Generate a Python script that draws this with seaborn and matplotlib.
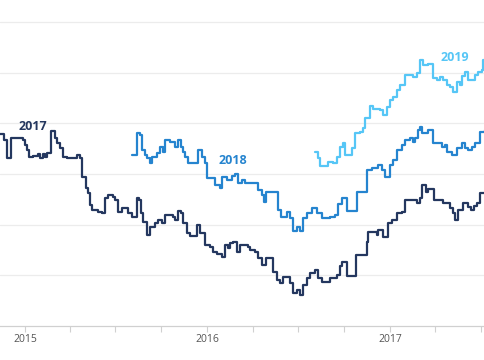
import pandas as pd
import numpy as np
import seaborn as sns
from matplotlib import pyplot as plt
import matplotlib.dates as mdates

# days counted from 2015-01-01
days_2017 = [-50, -42, -36, -28, -4, 0, 4, 8, 16, 26, 30, 36, 40, 44, 52, 60, 64, 70, 76, 84,
             104, 110, 114, 122, 126, 130, 134, 146, 154, 160, 166, 176, 180, 186, 194, 206, 214,
             224, 228, 232, 236, 244, 250, 260, 266, 274, 280, 296, 300, 306, 312, 316, 324, 330,
             344, 350, 360, 370, 376, 384, 394, 400, 406, 410, 416, 424, 430, 446, 450, 460, 466,
             474, 482, 496, 504, 510, 516, 530, 536, 544, 550, 556, 564, 570, 580, 586, 594, 610,
             624, 630, 634, 644, 662, 684, 686, 704, 706, 716, 726, 734, 744, 754, 760, 784, 790,
             794, 802, 806, 818, 836, 850, 856, 860, 866, 876, 886, 892, 898, 904, 910, 920]
vals_2017 = [37.9, 36.7, 33.1, 37.1, 36.7, 35.7, 34.7, 33.3, 33.5, 33.9, 33.1, 33.9, 33.3, 34.1,
             38.5, 37.1, 36.1, 35.1, 33.3, 33.1, 33.7, 33.1, 29.4, 27.2, 26.2, 23.9, 22.9, 22.5,
             22.3, 25.2, 25.8, 25.4, 24.9, 22.5, 23.3, 22.3, 21.5, 25.2, 24.9, 22.3, 20.5, 17.9,
             19.5, 20.3, 20.9, 20.3, 21.9, 21.5, 20.9, 22.7, 22.3, 20.3, 18.3, 17.8, 19.9, 18.3,
             16.0, 15.6, 14.6, 14.2, 13.6, 16.0, 15.4, 16.4, 16.6, 14.6, 16.0, 15.6, 15.0, 14.6,
             13.4, 12.0, 13.4, 10.7, 9.1, 8.5, 9.7, 8.5, 6.5, 7.1, 6.1, 8.1, 9.5, 10.5, 11.0, 9.5,
             8.7, 9.5, 10.1, 11.8, 12.6, 9.9, 14.0, 16.6, 18.5, 17.9, 18.9, 17.6, 20.3, 20.9, 22.3,
             22.5, 24.9, 24.3, 25.2, 27.8, 26.4, 27.0, 24.9, 24.3, 23.3, 22.3, 20.9, 22.9, 24.3,
             23.5, 22.9, 23.7, 24.3, 26.2, 26.2]

days_2018 = [214, 224, 230, 234, 240, 244, 250, 254, 264, 270, 276, 280, 290, 300, 306, 312, 316,
             320, 326, 346, 354, 360, 364, 380, 390, 394, 404, 414, 420, 426, 434, 440, 466, 474,
             478, 482, 502, 506, 512, 524, 530, 536, 544, 550, 556, 564, 574, 584, 594, 610, 620,
             626, 634, 644, 664, 684, 694, 706, 714, 720, 730, 736, 744, 754, 760, 770, 776, 780,
             786, 790, 794, 806, 816, 834, 840, 844, 854, 864, 874, 880, 886, 894, 900, 910, 920]
vals_2018 = [33.7, 38.1, 37.7, 34.7, 33.7, 33.1, 32.1, 33.3, 34.1, 35.3, 34.3, 36.7, 36.3, 35.3,
             36.7, 35.3, 34.3, 33.3, 32.1, 34.7, 33.3, 32.1, 29.2, 27.8, 27.2, 29.4, 28.8, 29.6,
             30.0, 28.2, 28.8, 28.2, 26.8, 25.8, 24.5, 26.4, 26.4, 22.9, 21.5, 22.5, 21.3, 18.7,
             19.5, 18.7, 21.3, 22.3, 23.3, 22.3, 21.3, 21.5, 21.9, 24.1, 25.2, 22.7, 26.4, 30.8,
             31.2, 31.8, 30.8, 29.4, 31.8, 32.7, 34.7, 35.7, 36.7, 37.1, 36.3, 37.1, 38.7, 39.3,
             38.1, 38.7, 36.1, 35.3, 35.7, 34.3, 33.7, 35.1, 36.1, 35.1, 34.7, 35.3, 36.1, 38.3,
             38.7]

days_2019 = [580, 586, 590, 606, 616, 624, 630, 636, 640, 654, 660, 670, 676, 680, 690, 696, 710,
             716, 724, 730, 736, 744, 750, 760, 776, 784, 790, 796, 806, 816, 824, 830, 836, 844,
             850, 856, 864, 870, 874, 880, 886, 900, 906, 914, 916, 920]
vals_2019 = [34.3, 33.1, 31.6, 32.3, 32.1, 33.3, 35.3, 36.1, 33.7, 35.1, 38.1, 38.3, 39.1, 41.0,
             43.4, 42.8, 42.6, 41.6, 43.2, 44.6, 45.2, 46.5, 47.5, 49.5, 49.1, 49.9, 52.5, 51.5,
             51.7, 48.9, 48.5, 49.1, 48.5, 47.5, 47.1, 46.2, 48.1, 47.5, 49.3, 50.1, 48.5, 49.5,
             50.1, 50.5, 52.5, 52.5]

series_names = ['2017', '2018', '2019']
colors = ['#24375f', '#2584cf', '#56c6f6']
label_days = [16, 416, 860]
label_vals = [39.3, 32.7, 52.9]

start = pd.Timestamp('2015-01-01')


def to_frame(days, vals):
    return pd.DataFrame({'date': start + pd.to_timedelta(days, unit='D'), 'value': vals})


sns.set_theme(style='white')
plt.rcParams['font.family'] = ['Open Sans', 'DejaVu Sans']

fig = plt.figure(figsize=(4.85, 3.6), dpi=100)
ax = fig.add_axes([0, 34 / 360, 1, 326 / 360])

frames = [to_frame(days_2017, vals_2017), to_frame(days_2018, vals_2018),
          to_frame(days_2019, vals_2019)]
for df, c in zip(frames, colors):
    sns.lineplot(data=df, x='date', y='value', ax=ax, color=c, linewidth=1.6,
                 drawstyle='steps-post')

for name, d, v, c in zip(series_names, label_days, label_vals, colors):
    ax.text(start + pd.Timedelta(days=d), v, name, color=c, fontsize=9,
            fontweight='bold', ha='center', va='center')

ax.set_xlim(start + pd.Timedelta(days=-50), start + pd.Timedelta(days=920))
ax.set_ylim(0, 64.3)
ax.set_yticks([10, 20, 30, 40, 50, 60])
ax.yaxis.grid(True, color='#ececec', linewidth=0.9)
ax.set_yticklabels([])
ax.tick_params(axis='y', length=0)

ax.xaxis.set_major_locator(mdates.YearLocator())
ax.xaxis.set_major_formatter(mdates.DateFormatter('%Y'))
ax.xaxis.set_minor_locator(mdates.MonthLocator(bymonth=[4, 7, 10]))
ax.tick_params(axis='x', which='both', direction='out', length=4, width=0.8,
               color='#d0d0d0', labelsize=7.5, labelcolor='#555555', pad=1.5,
               bottom=True)
ax.set_xlabel('')
ax.set_ylabel('')

for s in ['top', 'left', 'right']:
    ax.spines[s].set_visible(False)
ax.spines['bottom'].set_color('#d0d0d0')
ax.spines['bottom'].set_linewidth(0.9)

plt.savefig('out.png', dpi=100)
